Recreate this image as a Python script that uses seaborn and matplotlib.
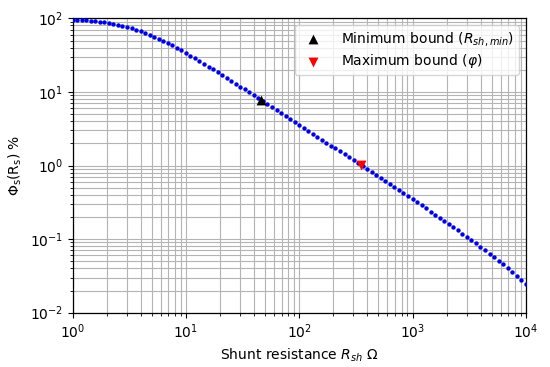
import seaborn as sns
import matplotlib.pyplot as plt

# Shunt resistance samples (Ohm) and measured Phi_s (%)
r_sh = [
    1.0, 1.096, 1.202, 1.318, 1.445, 1.585, 1.738, 1.905, 2.089, 2.291,
    2.512, 2.754, 3.020, 3.311, 3.631, 3.981, 4.365, 4.786, 5.248, 5.754,
    6.310, 6.918, 7.586, 8.318, 9.120,
    10.0, 10.96, 12.02, 13.18, 14.45, 15.85, 17.38, 19.05, 20.89, 22.91,
    25.12, 27.54, 30.20, 33.11, 36.31, 39.81, 43.65, 47.86, 52.48, 57.54,
    63.10, 69.18, 75.86, 83.18, 91.20,
    100.0, 109.6, 120.2, 131.8, 144.5, 158.5, 173.8, 190.5, 208.9, 229.1,
    251.2, 275.4, 302.0, 331.1, 363.1, 398.1, 436.5, 478.6, 524.8, 575.4,
    631.0, 691.8, 758.6, 831.8, 912.0,
    1000.0, 1096, 1202, 1318, 1445, 1585, 1738, 1905, 2089, 2291,
    2512, 2754, 3020, 3311, 3631, 3981, 4365, 4786, 5248, 5754,
    6310, 6918, 7586, 8318, 9120, 10000,
]
phi = [
    96.3, 95.6, 94.8, 93.9, 92.8, 91.5, 90.0, 88.3, 86.4, 84.3,
    81.9, 79.3, 76.5, 73.5, 70.3, 67.0, 63.5, 60.0, 56.5, 52.9,
    49.5, 46.1, 42.8, 39.6, 36.6,
    33.8, 31.1, 28.6, 26.3, 24.1, 22.1, 20.2, 18.5, 16.9, 15.5,
    14.15, 12.9, 11.8, 10.8, 9.83, 8.97, 8.18, 7.47, 6.81, 6.22,
    5.67, 5.17, 4.72, 4.30, 3.92,
    3.58, 3.26, 2.97, 2.71, 2.47, 2.25, 2.05, 1.87, 1.71, 1.555,
    1.417, 1.291, 1.177, 1.072, 0.977, 0.890, 0.811, 0.738, 0.672, 0.612,
    0.557, 0.507, 0.462, 0.420, 0.382,
    0.347, 0.316, 0.287, 0.261, 0.237, 0.215, 0.195, 0.177, 0.160, 0.145,
    0.131, 0.1186, 0.1072, 0.0967, 0.0872, 0.0785, 0.0706, 0.0633, 0.0567, 0.0507,
    0.0452, 0.0402, 0.0356, 0.0315, 0.0277, 0.0242,
]

# bounds
r_min, phi_min = [46], [7.8]
r_max, phi_max = [350], [1.02]

plt.rcParams["font.family"] = ["DejaVu Sans"]
plt.rcParams["font.size"] = 10
plt.rcParams["mathtext.fontset"] = "dejavusans"

fig = plt.figure(figsize=(5.5, 3.67), dpi=100)
ax = fig.add_axes([0.132, 0.148, 0.824, 0.802])

sns.scatterplot(x=r_sh, y=phi, ax=ax, color="#0000e6", s=10, linewidth=0,
                zorder=3, legend=False)
sns.scatterplot(x=r_min, y=phi_min, ax=ax, color="black", marker="^", s=50,
                linewidth=0, zorder=4, label=r"Minimum bound ($R_{sh,min}$)")
sns.scatterplot(x=r_max, y=phi_max, ax=ax, color="red", marker="v", s=50,
                linewidth=0, zorder=4, label=r"Maximum bound ($\varphi$)")

ax.set_xscale("log")
ax.set_yscale("log")
ax.set_xlim(1, 1e4)
ax.set_ylim(1e-2, 1e2)

ax.grid(True, which="both", color="#b4b4b4", linewidth=0.8)
ax.set_axisbelow(True)
for s in ax.spines.values():
    s.set_color("black")
    s.set_linewidth(0.9)
ax.tick_params(which="both", direction="out", colors="black", labelsize=10)

ax.set_xlabel(r"Shunt resistance $R_{sh}$ Ω", fontsize=10)
ax.set_ylabel(r"$\mathrm{\Phi_s(R_s)}$ %", fontsize=10)

ax.legend(loc="upper right", frameon=True, fontsize=10, handletextpad=1.0,
          labelspacing=0.3, borderpad=0.35)

fig.savefig("out.png", dpi=100)
